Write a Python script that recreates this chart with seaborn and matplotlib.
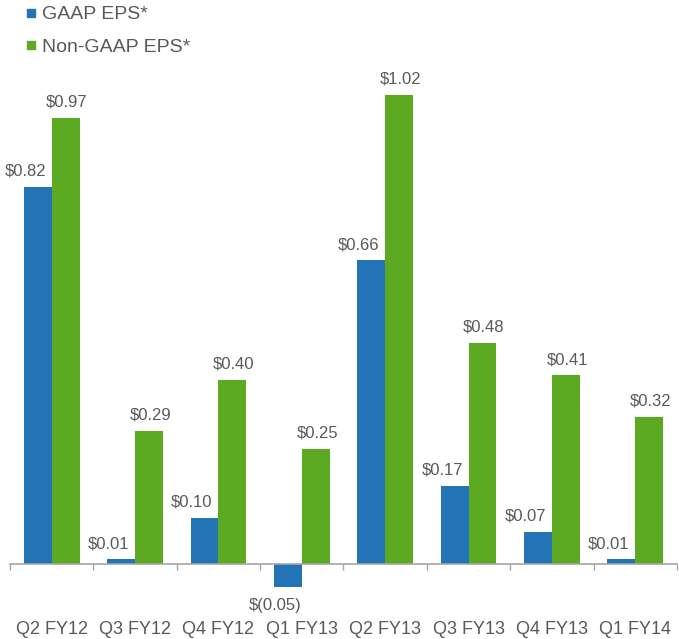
import pandas as pd
import matplotlib.pyplot as plt
import seaborn as sns
from matplotlib.lines import Line2D

# Quarterly EPS values
quarters = ['Q2 FY12', 'Q3 FY12', 'Q4 FY12', 'Q1 FY13',
            'Q2 FY13', 'Q3 FY13', 'Q4 FY13', 'Q1 FY14']
gaap_eps = [0.82, 0.01, 0.10, -0.05, 0.66, 0.17, 0.07, 0.01]
non_gaap_eps = [0.97, 0.29, 0.40, 0.25, 1.02, 0.48, 0.41, 0.32]
series_names = ['GAAP EPS*', 'Non-GAAP EPS*']

blue = '#2274b6'
green = '#5caa22'
text_grey = '#595959'

# Build a long table for seaborn
data = pd.DataFrame({
    'Quarter': quarters * 2,
    'EPS': gaap_eps + non_gaap_eps,
    'Series': [series_names[0]] * len(quarters) + [series_names[1]] * len(quarters),
})

sns.set_style('white')
plt.rcParams['font.family'] = ['Liberation Sans', 'DejaVu Sans']

fig = plt.figure(figsize=(6.79, 6.39), dpi=100)
ax = fig.add_axes([10 / 679, 29 / 639, 667 / 679, 0.864])

sns.barplot(data=data, x='Quarter', y='EPS', hue='Series', order=quarters,
            hue_order=series_names, palette=[blue, green], width=0.67,
            gap=0, saturation=1, linewidth=0, ax=ax, legend=False)

ax.set_xlim(-0.5, len(quarters) - 0.5)
ax.set_ylim(-0.1, 1.1)
ax.set_xlabel('')
ax.set_ylabel('')
ax.set_yticks([])

# Baseline at zero with small ticks between the groups
for side in ['top', 'right', 'left']:
    ax.spines[side].set_visible(False)
ax.spines['bottom'].set_position(('data', 0))
ax.spines['bottom'].set_color('#a6a6a6')
ax.spines['bottom'].set_linewidth(1.2)
ax.set_xticks(range(len(quarters)))
ax.set_xticklabels(quarters, fontsize=13, color=text_grey)
ax.set_xticks([i - 0.5 for i in range(len(quarters) + 1)], minor=True)
ax.tick_params(axis='x', which='both', bottom=True)
ax.tick_params(axis='x', which='major', length=0, pad=41)
ax.tick_params(axis='x', which='minor', length=4, width=1, color='#a6a6a6',
               direction='out')


def fmt(v):
    if v < 0:
        return '$({:.2f})'.format(abs(v))
    return '${:.2f}'.format(v)


# Value labels; GAAP labels sit a bit to the left as in the original
for k, container in enumerate(ax.containers):
    vals = gaap_eps if k == 0 else non_gaap_eps
    dx = -9 if k == 0 else 1
    for bar, v in zip(container, vals):
        x = bar.get_x() + bar.get_width() / 2
        if v >= 0:
            ax.annotate(fmt(v), (x, v), xytext=(dx, 6), textcoords='offset points',
                        ha='center', va='bottom', fontsize=12, color=text_grey,
                        bbox=dict(fc='white', ec='none', pad=0.5))
        else:
            ax.annotate(fmt(v), (x, v), xytext=(dx, -8), textcoords='offset points',
                        ha='center', va='top', fontsize=12, color=text_grey)

# Legend with small square markers in the top-left corner
handles = [Line2D([], [], marker='s', linestyle='none', markersize=6,
                  markerfacecolor=c, markeredgecolor=c) for c in [blue, green]]
fig.legend(handles, series_names, loc='upper left', bbox_to_anchor=(0.025, 1.003),
           frameon=False, fontsize=14, labelcolor=text_grey, handlelength=0.6,
           handletextpad=0.3, labelspacing=0.75, borderaxespad=0)

fig.savefig('out.png', dpi=100)
